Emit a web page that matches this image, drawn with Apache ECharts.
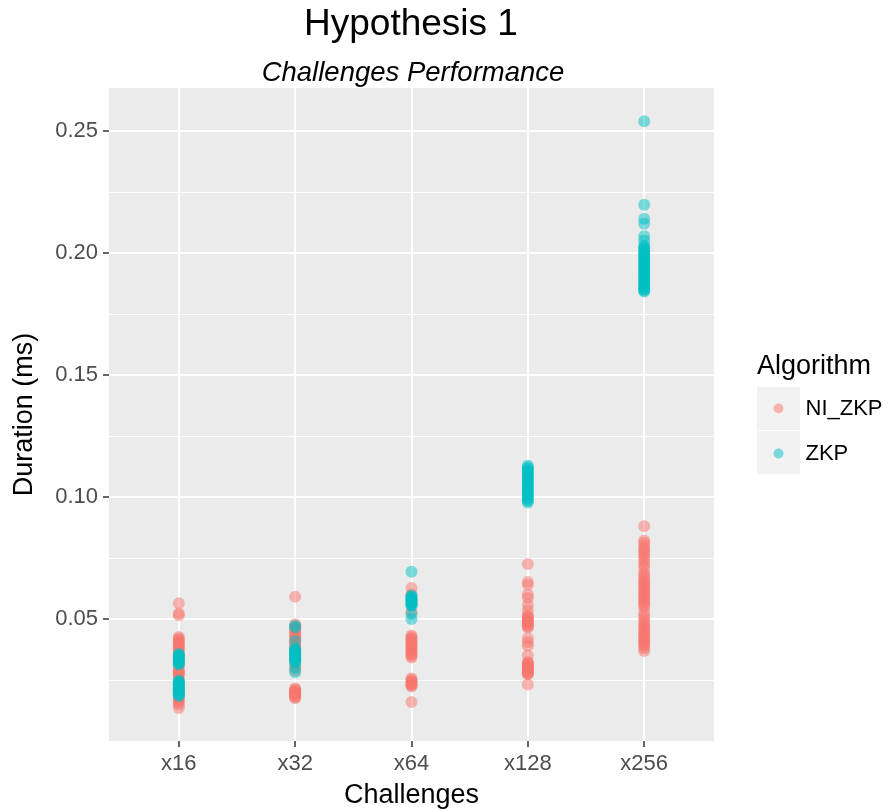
<!DOCTYPE html>
<html>
<head>
<meta charset="utf-8">
<script src="https://cdn.jsdelivr.net/npm/echarts@6/dist/echarts.min.js"></script>
<style>html,body{margin:0;padding:0;background:#fff}#c{width:889px;height:812px}</style>
</head>
<body>
<div id="c"></div>
<script>
var categories = ['x16', 'x32', 'x64', 'x128', 'x256'];
var yTicks = [0.05, 0.10, 0.15, 0.20, 0.25];

var niX16 = [0.0564, 0.0523, 0.0515, 0.0426, 0.0420, 0.0414, 0.0408, 0.0402, 0.0396, 0.0390, 0.0384, 0.0378, 0.0370, 0.0360, 0.0345, 0.0330, 0.0315, 0.0300, 0.0290, 0.0284, 0.0279, 0.0274, 0.0268, 0.0255, 0.0235, 0.0215, 0.0195, 0.0180, 0.0172, 0.0165, 0.0158, 0.0150, 0.0135];
var niX32 = [0.0591, 0.0478, 0.0470, 0.0462, 0.0455, 0.0448, 0.0441, 0.0434, 0.0427, 0.0420, 0.0413, 0.0406, 0.0398, 0.0390, 0.0380, 0.0365, 0.0350, 0.0335, 0.0320, 0.0305, 0.0290, 0.0215, 0.0211, 0.0207, 0.0203, 0.0199, 0.0195, 0.0191, 0.0187, 0.0183, 0.0179, 0.0175];
var niX64 = [0.0627, 0.0600, 0.0575, 0.0530, 0.0432, 0.0426, 0.0420, 0.0414, 0.0408, 0.0402, 0.0396, 0.0390, 0.0384, 0.0378, 0.0372, 0.0366, 0.0360, 0.0354, 0.0348, 0.0342, 0.0256, 0.0251, 0.0246, 0.0241, 0.0236, 0.0231, 0.0227, 0.0223, 0.0160];
var niX128 = [0.0725, 0.0652, 0.0640, 0.0600, 0.0586, 0.0557, 0.0535, 0.0514, 0.0509, 0.0504, 0.0499, 0.0494, 0.0489, 0.0484, 0.0479, 0.0474, 0.0469, 0.0464, 0.0420, 0.0405, 0.0390, 0.0350, 0.0324, 0.0320, 0.0316, 0.0312, 0.0308, 0.0304, 0.0300, 0.0296, 0.0292, 0.0288, 0.0284, 0.0280, 0.0276, 0.0273, 0.0232];
var niX256 = [0.0880, 0.0822, 0.0812, 0.0800, 0.0790, 0.0780, 0.0770, 0.0760, 0.0748, 0.0735, 0.0722, 0.0710, 0.0690, 0.0680, 0.0670, 0.0660, 0.0652, 0.0644, 0.0636, 0.0628, 0.0620, 0.0612, 0.0604, 0.0596, 0.0588, 0.0580, 0.0572, 0.0564, 0.0556, 0.0548, 0.0525, 0.0512, 0.0500, 0.0490, 0.0480, 0.0472, 0.0464, 0.0456, 0.0448, 0.0440, 0.0432, 0.0425, 0.0418, 0.0411, 0.0404, 0.0397, 0.0390, 0.0380, 0.0369];

var zkpX16 = [0.0357, 0.0353, 0.0349, 0.0345, 0.0341, 0.0337, 0.0333, 0.0329, 0.0325, 0.0321, 0.0317, 0.0313, 0.0248, 0.0244, 0.0240, 0.0236, 0.0232, 0.0228, 0.0224, 0.0220, 0.0216, 0.0212, 0.0208, 0.0204, 0.0200, 0.0196, 0.0192, 0.0188, 0.0184];
var zkpX32 = [0.0472, 0.0465, 0.0410, 0.0379, 0.0375, 0.0371, 0.0367, 0.0363, 0.0359, 0.0355, 0.0351, 0.0347, 0.0343, 0.0339, 0.0335, 0.0331, 0.0327, 0.0322, 0.0300, 0.0282];
var zkpX64 = [0.0694, 0.0596, 0.0592, 0.0588, 0.0584, 0.0580, 0.0576, 0.0572, 0.0568, 0.0564, 0.0560, 0.0556, 0.0553, 0.0520, 0.0500];
var zkpX128 = [0.1128, 0.1122, 0.1116, 0.1110, 0.1104, 0.1098, 0.1092, 0.1086, 0.1080, 0.1074, 0.1068, 0.1062, 0.1056, 0.1050, 0.1044, 0.1038, 0.1032, 0.1026, 0.1020, 0.1014, 0.1008, 0.1002, 0.0996, 0.0990, 0.0984, 0.0977];
var zkpX256 = [0.2540, 0.2198, 0.2140, 0.2120, 0.2068, 0.2050, 0.2030, 0.2024, 0.2018, 0.2012, 0.2006, 0.2000, 0.1994, 0.1988, 0.1982, 0.1976, 0.1970, 0.1964, 0.1958, 0.1952, 0.1946, 0.1940, 0.1934, 0.1928, 0.1922, 0.1916, 0.1910, 0.1904, 0.1898, 0.1892, 0.1886, 0.1880, 0.1874, 0.1868, 0.1862, 0.1856, 0.1850, 0.1846, 0.1842];

var niGroups = [niX16, niX32, niX64, niX128, niX256];
var zkpGroups = [zkpX16, zkpX32, zkpX64, zkpX128, zkpX256];

function toPoints(groups) {
  var out = [];
  groups.forEach(function (arr, i) {
    arr.forEach(function (v) { out.push([i + 1, v]); });
  });
  return out;
}
var catPositions = categories.map(function (c, i) { return i + 1; });

var FONT = '"Liberation Sans", Arial, Helvetica, sans-serif';
var chart = echarts.init(document.getElementById('c'), null, {renderer: 'canvas'});
chart.setOption({
  animation: false,
  backgroundColor: '#ffffff',
  textStyle: {fontFamily: FONT},
  grid: {left: 109, right: 175, top: 88, bottom: 71, show: true, backgroundColor: '#EBEBEB', borderWidth: 0, containLabel: false, outerBoundsMode: 'none'},
  xAxis: {
    type: 'value', min: 0.4, max: 5.6,
    name: 'Challenges', nameLocation: 'middle', nameGap: 41,
    nameTextStyle: {fontSize: 27, color: '#000', fontFamily: FONT},
    axisLine: {show: false},
    axisTick: {show: true, customValues: catPositions, length: 6, lineStyle: {color: '#333333', width: 1.5}},
    axisLabel: {customValues: catPositions, fontSize: 22, color: '#4D4D4D', margin: 12, fontFamily: FONT,
      formatter: function (v) { return categories[Math.round(v) - 1] || ''; }},
    splitLine: {show: true, lineStyle: {color: '#ffffff', width: 2}}
  },
  yAxis: {
    type: 'value', min: 0, max: 0.2676, interval: 0.05,
    name: 'Duration (ms)', nameLocation: 'middle', nameGap: 71,
    nameTextStyle: {fontSize: 27, color: '#000', fontFamily: FONT},
    axisLine: {show: false},
    axisTick: {show: true, customValues: yTicks, length: 6, lineStyle: {color: '#333333', width: 1.5}},
    axisLabel: {customValues: yTicks, fontSize: 22, color: '#4D4D4D', margin: 11, fontFamily: FONT,
      formatter: function (v) { return v.toFixed(2); }},
    splitLine: {show: true, lineStyle: {color: '#ffffff', width: 2}},
    minorTick: {show: false, splitNumber: 2},
    minorSplitLine: {show: true, lineStyle: {color: '#ffffff', width: 1}}
  },
  legend: {
    orient: 'vertical', left: 773.5, top: 397.5, padding: 0, itemGap: 23,
    itemWidth: 10, itemHeight: 10, icon: 'circle',
    textStyle: {fontSize: 22, color: '#000', fontFamily: FONT, padding: [0, 0, 0, 17]},
    data: ['NI_ZKP', 'ZKP']
  },
  graphic: [
    {type: 'text', style: {x: 411, y: 25, text: 'Hypothesis 1', fontSize: 37, fontFamily: FONT, fill: '#000', textAlign: 'center', textVerticalAlign: 'middle'}},
    {type: 'text', style: {x: 413, y: 73, text: 'Challenges Performance', fontSize: 27.5, fontStyle: 'italic', fontFamily: FONT, fill: '#000', textAlign: 'center', textVerticalAlign: 'middle'}},
    {type: 'text', style: {x: 757, y: 367, text: 'Algorithm', fontSize: 27, fontFamily: FONT, fill: '#000', textAlign: 'left', textVerticalAlign: 'middle'}},
    {type: 'rect', z: -1, shape: {x: 757, y: 387, width: 43, height: 43}, style: {fill: '#F2F2F2'}},
    {type: 'rect', z: -1, shape: {x: 757, y: 431, width: 43, height: 43}, style: {fill: '#F2F2F2'}}
  ],
  series: [
    {name: 'NI_ZKP', type: 'scatter', symbolSize: 12, data: toPoints(niGroups),
      itemStyle: {color: '#F8766D', opacity: 0.5}, emphasis: {disabled: true}},
    {name: 'ZKP', type: 'scatter', symbolSize: 12, data: toPoints(zkpGroups),
      itemStyle: {color: '#00BFC4', opacity: 0.5}, emphasis: {disabled: true}}
  ]
});
</script>
</body>
</html>
